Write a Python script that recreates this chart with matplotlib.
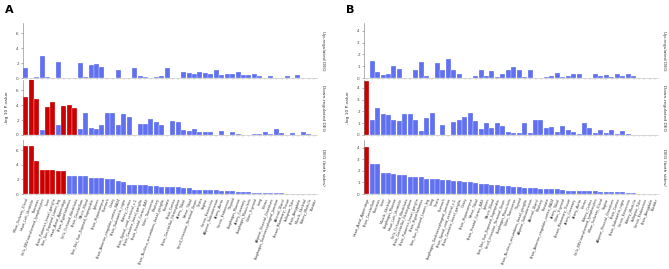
import numpy as np
import matplotlib
matplotlib.use('Agg')
import matplotlib.pyplot as plt

# ---- panel A data (order = bars left to right) ----
tissues_a = ['Minor_Salivary_Gland', 'Heart_Left_Ventricle', 'Pancreas', 'Cells_EBV-transformed_lymphocytes',
             'Liver', 'Brain_Putamen_basal_ganglia', 'Skin_Sun_Exposed_Lower_leg', 'Heart_Atrial_Appendage',
             'Brain_Hypothalamus', 'Cells_Cultured_fibroblasts', 'Brain_Cerebellum', 'Whole_Blood',
             'Skin_Not_Sun_Exposed_Suprapubic', 'Spleen', 'Brain_Hippocampus', 'Stomach', 'Ovary',
             'Brain_Anterior_cingulate_cortex_BA24', 'Brain_Substantia_nigra', 'Kidney_Cortex',
             'Brain_Spinal_cord_cervical_c-1', 'Brain_Caudate_basal_ganglia', 'Brain_Frontal_Cortex_BA9',
             'Colon_Transverse', 'Pituitary', 'Brain_Nucleus_accumbens_basal_ganglia', 'Prostate', 'Brain_Cortex',
             'Brain_Cerebellar_Hemisphere', 'Artery_Tibial', 'Nerve_Tibial', 'Small_Intestine_Terminal_Ileum',
             'Testis', 'Vagina', 'Cervix_Ectocervix', 'Adipose_Subcutaneous', 'Artery_Aorta', 'Cervix_Endocervix',
             'Thyroid', 'Esophagus_Mucosa', 'Artery_Coronary', 'Esophagus_Muscularis', 'Colon_Sigmoid', 'Lung',
             'Uterus', 'Adipose_Visceral_Omentum', 'Esophagus_Gastroesophageal_Junction', 'Adrenal_Gland',
             'Breast_Mammary_Tissue', 'Fallopian_Tube', 'Brain_Amygdala', 'Muscle_Skeletal', 'Kidney_Medulla',
             'Bladder']
up_a = [1.3, 0.02, 0.1, 3.0, 0.1, 0.0, 2.2, 0.0, 0.0, 0.0, 2.0, 0.1, 1.7, 1.85, 1.5, 0.05, 0.05, 1.1,
        0.0, 0.0, 1.35, 0.3, 0.2, 0.0, 0.1, 0.3, 1.4, 0.05, 0.05, 0.8, 0.7, 0.5, 0.8, 0.65, 0.55, 1.05,
        0.35, 0.6, 0.5, 0.8, 0.45, 0.4, 0.55, 0.3, 0.0, 0.25, 0.0, 0.05, 0.25, 0.0, 0.35, 0.0, 0.0, 0.0]
down_a = [5.1, 7.6, 4.9, 0.7, 3.8, 4.5, 1.3, 3.9, 4.0, 3.7, 0.8, 2.95, 0.9, 0.8, 1.3, 2.9, 2.95, 1.4,
          2.8, 2.4, 0.0, 1.45, 1.45, 2.2, 1.8, 1.35, 0.05, 1.85, 1.75, 0.65, 0.5, 0.8, 0.35, 0.35, 0.4,
          0.05, 0.55, 0.0, 0.4, 0.15, 0.0, 0.0, 0.15, 0.2, 0.45, 0.1, 0.85, 0.3, 0.05, 0.3, 0.0, 0.45, 0.1, 0.0]
both_a = [6.6, 6.6, 4.5, 3.3, 3.3, 3.3, 3.2, 3.2, 2.5, 2.5, 2.5, 2.5, 2.2, 2.2, 2.2, 2.1, 2.0, 1.8,
          1.6, 1.3, 1.3, 1.25, 1.2, 1.1, 1.05, 1.0, 1.0, 1.0, 1.0, 0.8, 0.8, 0.6, 0.6, 0.55, 0.5, 0.5,
          0.45, 0.4, 0.35, 0.3, 0.25, 0.25, 0.2, 0.2, 0.15, 0.12, 0.1, 0.08, 0.05, 0.03, 0.02, 0.01, 0.01, 0.0]

# ---- panel B data ----
tissues_b = ['Heart_Atrial_Appendage', 'Brain_Cerebellum', 'Pancreas', 'Liver', 'Muscle_Skeletal',
             'Esophagus_Mucosa', 'Heart_Left_Ventricle', 'Cells_Cultured_fibroblasts', 'Brain_Cerebellar_Hemisphere',
             'Brain_Putamen_basal_ganglia', 'Brain_Hypothalamus', 'Skin_Sun_Exposed_Lower_leg', 'Lung', 'Testis',
             'Stomach', 'Esophagus_Gastroesophageal_Junction', 'Brain_Spinal_cord_cervical_c-1',
             'Brain_Caudate_basal_ganglia', 'Ovary', 'Brain_Hippocampus', 'Nerve_Tibial', 'Brain_Frontal_Cortex_BA9',
             'Spleen', 'Whole_Blood', 'Skin_Not_Sun_Exposed_Suprapubic', 'Small_Intestine_Terminal_Ileum',
             'Esophagus_Muscularis', 'Colon_Transverse', 'Thyroid', 'Brain_Nucleus_accumbens_basal_ganglia',
             'Adipose_Subcutaneous', 'Adrenal_Gland', 'Pituitary', 'Prostate', 'Brain_Anterior_cingulate_cortex_BA24',
             'Artery_Tibial', 'Colon_Sigmoid', 'Breast_Mammary_Tissue', 'Artery_Coronary', 'Artery_Aorta', 'Uterus',
             'Kidney_Cortex', 'Cells_EBV-transformed_lymphocytes', 'Minor_Salivary_Gland', 'Vagina',
             'Adipose_Visceral_Omentum', 'Brain_Cortex', 'Brain_Substantia_nigra', 'Cervix_Ectocervix',
             'Kidney_Medulla', 'Fallopian_Tube', 'Cervix_Endocervix', 'Brain_Amygdala', 'Bladder']
up_b = [0.0, 1.4, 0.5, 0.25, 0.3, 1.0, 0.8, 0.0, 0.0, 0.65, 1.35, 0.15, 0.0, 1.3, 0.7, 1.6, 0.7, 0.3,
        0.0, 0.0, 0.15, 0.7, 0.2, 0.55, 0.1, 0.35, 0.7, 0.9, 0.65, 0.1, 0.7, 0.0, 0.0, 0.1, 0.2, 0.4,
        0.1, 0.2, 0.3, 0.35, 0.0, 0.0, 0.3, 0.15, 0.25, 0.1, 0.35, 0.15, 0.35, 0.15, 0.0, 0.0, 0.0, 0.0]
down_b = [4.6, 1.25, 2.25, 1.8, 1.7, 1.25, 1.15, 1.8, 1.75, 1.25, 0.35, 1.45, 1.9, 0.0, 0.85, 0.0, 1.1,
          1.3, 1.55, 1.85, 1.2, 0.5, 1.0, 0.55, 1.05, 0.75, 0.25, 0.2, 0.2, 1.05, 0.15, 1.25, 1.3, 0.55,
          0.7, 0.25, 0.75, 0.45, 0.25, 0.1, 1.05, 0.55, 0.2, 0.4, 0.15, 0.45, 0.1, 0.3, 0.05, 0.0, 0.0,
          0.0, 0.0, 0.0]
both_b = [4.05, 2.6, 2.6, 1.8, 1.8, 1.75, 1.65, 1.6, 1.5, 1.5, 1.45, 1.3, 1.3, 1.25, 1.2, 1.2, 1.15, 1.1,
          1.05, 1.0, 0.95, 0.9, 0.85, 0.8, 0.75, 0.7, 0.7, 0.6, 0.6, 0.55, 0.5, 0.5, 0.45, 0.45, 0.4, 0.4,
          0.35, 0.3, 0.3, 0.3, 0.25, 0.25, 0.25, 0.2, 0.2, 0.2, 0.15, 0.15, 0.1, 0.05, 0.02, 0.0, 0.0, 0.0]

# Bonferroni cut-off, -log10(0.05/54)
cutoff = -np.log10(0.05 / 54)
RED = '#cc0000'
BLUE = '#6070f0'
GREY = '#777777'

fig = plt.figure(figsize=(6.69, 2.69), dpi=100)
W, H = 669.0, 269.0


def draw_panel(x0, tissues, rows, ymax, yticks, letter):
    n = len(tissues)
    xs = np.arange(n)
    tops = [23, 80, 140]
    bottoms = [78, 135, 194]
    names = ['Up-regulated DEG', 'Down-regulated DEG', 'DEG (both sides)']
    for k, vals in enumerate(rows):
        ax = fig.add_axes([x0 / W, 1 - bottoms[k] / H, 294 / W, (bottoms[k] - tops[k]) / H])
        vals = np.array(vals)
        cols = [RED if v > cutoff else BLUE for v in vals]
        ax.bar(xs, vals, width=0.92, color=cols, edgecolor='white', linewidth=0.2)
        ax.set_xlim(-0.5, n - 0.5)
        ax.set_ylim(0, ymax)
        ax.set_yticks(yticks)
        ax.tick_params(axis='y', labelsize=3, length=1.5, width=0.4, color=GREY, labelcolor='#444444', pad=1.5)
        ax.tick_params(axis='x', length=1.5, width=0.3, color='#bbbbbb', pad=1)
        ax.set_xticks(xs)
        for s in ['top', 'right']:
            ax.spines[s].set_visible(False)
        ax.spines['left'].set_color(GREY)
        ax.spines['bottom'].set_color('#bbbbbb')
        ax.spines['left'].set_linewidth(0.4)
        ax.spines['bottom'].set_linewidth(0.4)
        if k < 2:
            ax.set_xticklabels([])
        else:
            ax.set_xticklabels(tissues, rotation=70, ha='right', rotation_mode='anchor',
                               fontsize=2.45, color='#333333')
        ax.text(1.012, 0.5, names[k], transform=ax.transAxes, rotation=270, fontsize=3.2,
                va='center', ha='left', color='#333333')
        if k == 1:
            ax.set_ylabel('-log 10 P-value', fontsize=3.2, color='#333333', labelpad=5)
    fig.text((x0 - 18) / W, 1 - 10 / H, letter, fontsize=8, fontweight='bold', va='center', ha='left')


draw_panel(23, tissues_a, [up_a, down_a, both_a], 7.4, [0, 2, 4, 6], 'A')
draw_panel(364, tissues_b, [up_b, down_b, both_b], 4.65, [0, 1, 2, 3, 4], 'B')

plt.savefig('out.png', dpi=100)
